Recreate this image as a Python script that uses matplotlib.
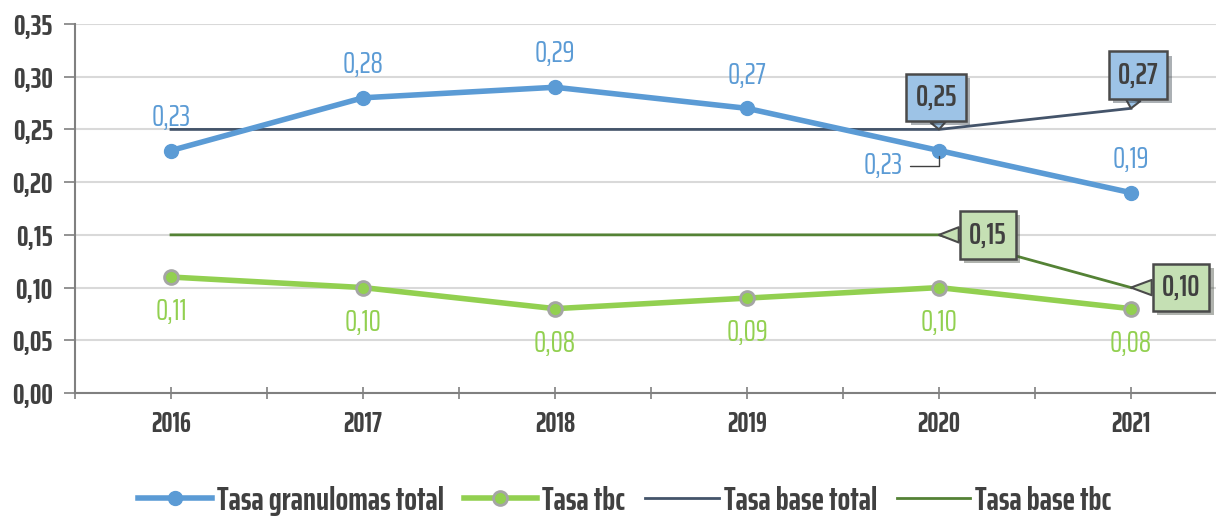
import matplotlib
matplotlib.use("Agg")
import matplotlib.pyplot as plt
import matplotlib.patheffects as pe

plt.rcParams["font.family"] = ["Saira ExtraCondensed", "Roboto Condensed", "DejaVu Sans"]

years = ["2016", "2017", "2018", "2019", "2020", "2021"]
tasa_granulomas = [0.23, 0.28, 0.29, 0.27, 0.23, 0.19]
tasa_tbc = [0.11, 0.10, 0.08, 0.09, 0.10, 0.08]
base_total = [0.25, 0.25, 0.25, 0.25, 0.25, 0.27]
base_tbc = [0.15, 0.15, 0.15, 0.15, 0.15, 0.10]
y_ticks = [0.00, 0.05, 0.10, 0.15, 0.20, 0.25, 0.30, 0.35]

BLUE = "#5B9BD5"
GREEN = "#92D050"
DARK_BLUE = "#44546A"
DARK_GREEN = "#548235"
TEXT = "#404040"


def fmt(v):
    return f"{v:.2f}".replace(".", ",")


fig = plt.figure(figsize=(12.16, 5.16), dpi=100)
ax = fig.add_axes([75 / 1216, 123 / 516, 1152 / 1216, 369 / 516])
x = list(range(len(years)))

ax.plot(x, base_total, color=DARK_BLUE, lw=2, label="Tasa base total", zorder=2)
ax.plot(x, base_tbc, color=DARK_GREEN, lw=2, label="Tasa base tbc", zorder=2)
ax.plot(x, tasa_granulomas, color=BLUE, lw=4, marker="o", ms=10,
        label="Tasa granulomas total", zorder=3)
ax.plot(x, tasa_tbc, color=GREEN, lw=4, marker="o", ms=10, mfc=GREEN,
        mec="#A5A5A5", mew=2, label="Tasa tbc", zorder=3)

# data labels: granulomas above (2020 below-left with leader), tbc below
for i, v in enumerate(tasa_granulomas):
    if i == 4:
        ax.annotate(fmt(v), (i, v), xytext=(-40, -11), textcoords="offset points",
                    ha="center", va="center", color=BLUE, fontsize=22,
                    arrowprops=dict(arrowstyle="-", color="#404040", lw=1,
                                    connectionstyle="angle,angleA=0,angleB=90,rad=0",
                                    shrinkA=3, shrinkB=4))
    else:
        ax.annotate(fmt(v), (i, v), xytext=(0, 24), textcoords="offset points",
                    ha="center", va="center", color=BLUE, fontsize=22)

for i, v in enumerate(tasa_tbc):
    ax.annotate(fmt(v), (i, v), xytext=(0, -25), textcoords="offset points",
                ha="center", va="center", color=GREEN, fontsize=22)


def callout(i, v, dx, dy, fc):
    t = ax.annotate(fmt(v), (i, v), xytext=(dx, dy), textcoords="offset points",
                    ha="center", va="center", color=TEXT, fontsize=22,
                    fontweight="semibold",
                    bbox=dict(boxstyle="square,pad=0.3", fc=fc, ec="#4a4a4a", lw=1.8),
                    arrowprops=dict(arrowstyle="wedge,tail_width=0.5,shrink_factor=0.5",
                                    fc=fc, ec="#4a4a4a", lw=1.5, shrinkA=0, shrinkB=0),
                    zorder=5)
    t.get_bbox_patch().set_path_effects(
        [pe.SimplePatchShadow(offset=(3, -3), alpha=0.4), pe.Normal()])


callout(4, base_total[4], -2, 23, "#9DC3E6")
callout(5, base_total[5], 5, 24, "#9DC3E6")
callout(4, base_tbc[4], 35, 0, "#C5E0B4")
callout(5, base_tbc[5], 36, 0, "#C5E0B4")

ax.set_xlim(-0.5, 5.5)
ax.set_ylim(0, 0.35)
ax.set_yticks(y_ticks)
ax.set_yticklabels([fmt(t) for t in y_ticks])
ax.set_xticks(x)
ax.set_xticklabels(years)
ax.set_xticks([i - 0.5 for i in range(len(years) + 1)], minor=True)

ax.grid(axis="y", color="#D9D9D9", lw=1.5)
ax.set_axisbelow(True)
for s in ["top", "right"]:
    ax.spines[s].set_visible(False)
for s in ["left", "bottom"]:
    ax.spines[s].set_color("#808080")
    ax.spines[s].set_linewidth(1.5)

ax.tick_params(axis="y", length=8, width=1.2, color="#808080", labelsize=21,
               labelcolor=TEXT, pad=8)
ax.tick_params(axis="x", which="major", length=8, width=1.2, color="#808080",
               labelsize=20, labelcolor=TEXT, pad=8, direction="inout")
ax.tick_params(axis="x", which="minor", length=8, width=1.2, color="#808080",
               direction="inout")
for lab in ax.get_xticklabels() + ax.get_yticklabels():
    lab.set_fontweight("bold")

handles, labels = ax.get_legend_handles_labels()
order = [2, 3, 0, 1]
leg = fig.legend([handles[k] for k in order], [labels[k] for k in order],
                 loc="center", bbox_to_anchor=(0.514, 0.03), ncol=4, frameon=False,
                 fontsize=24, handlelength=2.2, columnspacing=0.6, handletextpad=0.15,
                 borderaxespad=0)
for t in leg.get_texts():
    t.set_color(TEXT)
    t.set_fontweight("bold")

fig.savefig("out.png", dpi=100)
